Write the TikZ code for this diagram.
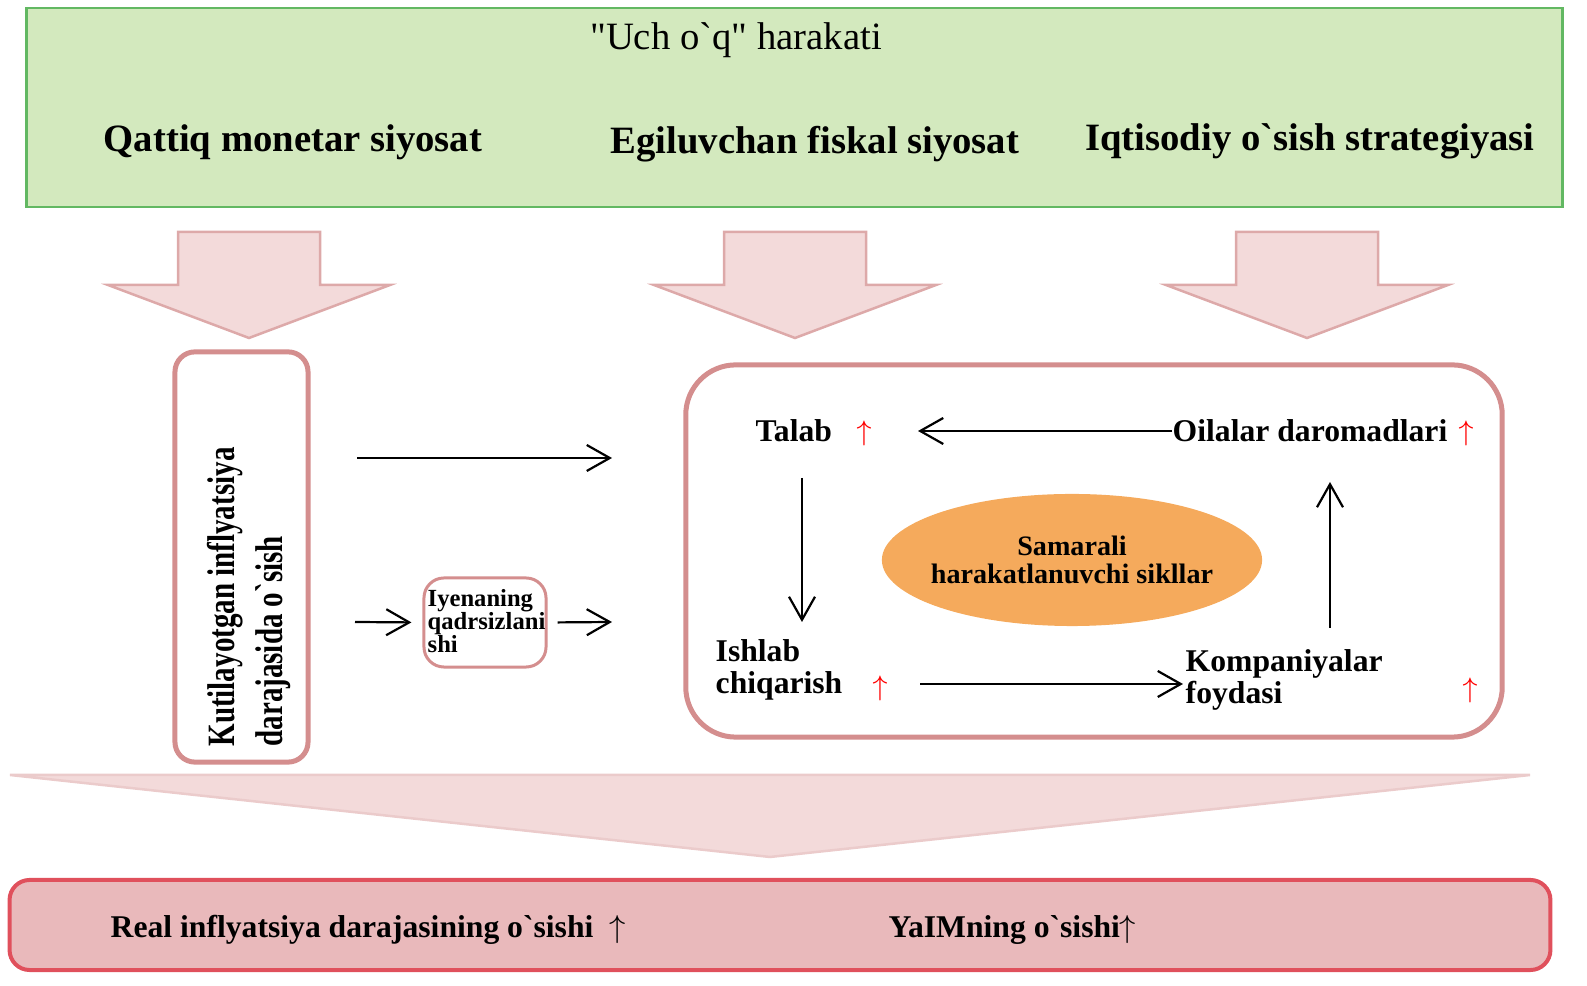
\documentclass[tikz,border=0pt]{standalone}
\usepackage{fontspec}
\setmainfont{Liberation Serif}
\usetikzlibrary{calc,arrows.meta,shapes.geometric}
\definecolor{boxgreen}{HTML}{D3E9BE}
\definecolor{linegreen}{HTML}{62B862}
\definecolor{arrowpink}{HTML}{F3DADA}
\definecolor{arrowedge}{HTML}{DDA9A9}
\definecolor{framepink}{HTML}{D48E8E}
\definecolor{cycleorange}{HTML}{F5AA5C}
\definecolor{basepink}{HTML}{E9B9BB}
\definecolor{basered}{HTML}{E0505C}
\def\fatarrow(#1){\draw[fatarr] ({#1-71},232) -- ({#1+71},232) -- ({#1+71},285) -- ({#1+141},285) -- (#1,338) -- ({#1-141},285) -- ({#1-71},285) -- cycle;}

\begin{document}
\begin{tikzpicture}[x=0.01cm, y=-0.01cm,
    fatarr/.style={fill=arrowpink, draw=arrowedge, line width=0.25mm},
    pinkframe/.style={draw=framepink, line width=0.5mm, rounded corners=2mm},
    flow/.style={-{Straight Barb[length=2.3mm,width=2.6mm]}, line width=0.22mm},
    toptxt/.style={font=\fontsize{11}{13}\selectfont\bfseries},
    lbl/.style={font=\fontsize{9}{9}\selectfont\bfseries, align=left, inner sep=0pt, anchor=west},
    redup/.style={text=red, font=\fontsize{8}{8}\selectfont, inner sep=0pt}]
    %%%%% START %%%%%
    \useasboundingbox (0,0) rectangle (1587,986);
    
    \node[fill=boxgreen, draw=linegreen, line width=0.25mm, minimum width=15.35cm, minimum height=1.99cm] (head) at (794.5,107.5) {};
    \node[font=\fontsize{11}{13}\selectfont] (title) at (736,40) {\textquotedbl Uch o\textasciigrave q\textquotedbl{} harakati};
    \node[toptxt] (monetar) at (293,142) {Qattiq monetar siyosat};
    \node[toptxt] (fiskal) at (815,144) {Egiluvchan fiskal siyosat};
    \node[toptxt] (osish) at (1310,141) {Iqtisodiy o\textasciigrave sish strategiyasi};
    
    \fatarrow(249)
    \fatarrow(795)
    \fatarrow(1307)
    
    \node[pinkframe, minimum width=1.33cm, minimum height=4.1cm] (expect) at (241.5,557) {};
    \node[rotate=90, align=left, font=\fontsize{11}{13.5}\selectfont\bfseries] (expecttxt) at (249,597)
        {\scalebox{0.75}[1]{Kutilayotgan inflyatsiya}\\\scalebox{0.75}[1]{darajasida o\textasciigrave sish}};
    
    \node[draw=framepink, line width=0.3mm, rounded corners=2mm, minimum width=1.22cm, minimum height=0.89cm] (iyen) at (485,622.5) {};
    \node[lbl, font=\fontsize{7}{6.6}\selectfont\bfseries] (iyentxt) at (427,621) {Iyenaning\\qadrsizlani\\shi};
    
    \coordinate (a1) at (357,458);
    \coordinate (a2) at (612,458);
    \coordinate (b1) at (355,622);
    \coordinate (b2) at (612,622);
    \draw[flow] (a1) -- (a2);
    \draw[flow, shorten >=1.1mm] (b1) -- (iyen.west);
    \draw[flow, shorten <=1mm] (iyen.east) -- (b2);
    
    \node[pinkframe, rounded corners=5mm, minimum width=8.16cm, minimum height=3.72cm] (cycle) at (1094,551) {};
    \node[ellipse, fill=cycleorange, inner sep=0pt, minimum width=3.8cm, minimum height=1.32cm] (samarali) at (1072,560) {};
    \node[align=center, font=\fontsize{8}{8}\selectfont\bfseries] (samaralitxt) at (samarali.center) {Samarali\\harakatlanuvchi sikllar};
    
    \node[lbl] (talab) at (755,431) {Talab};
    \node[redup] (talabup) at (864,433) {$\uparrow$};
    \node[lbl] (oila) at (1172,431) {Oilalar daromadlari};
    \node[redup] (oilaup) at (1466,433) {$\uparrow$};
    \node[lbl] (ishlab) at (715,670) {Ishlab\\chiqarish};
    \node[redup] (ishlabup) at (880,688) {$\uparrow$};
    \node[lbl] (kompan) at (1185,680) {Kompaniyalar\\foydasi};
    \node[redup] (kompanup) at (1470,690) {$\uparrow$};
    
    \coordinate (c1) at (918,431);
    \coordinate (d1) at (802,478);
    \coordinate (d2) at (802,622);
    \coordinate (e1) at (920,684);
    \coordinate (e2) at (1183,684);
    \coordinate (f1) at (1330,628);
    \coordinate (f2) at (1330,482);
    \draw[flow] (oila.west) -- (c1);
    \draw[flow] (d1) -- (d2);
    \draw[flow] (e1) -- (e2);
    \draw[flow] (f1) -- (f2);
    
    \draw[fatarr, draw=arrowedge!60] (10,775) -- (1530,775) -- (770,857) -- cycle;
    
    \node[fill=basepink, draw=basered, line width=0.4mm, rounded corners=2mm, minimum width=15.4cm, minimum height=0.9cm] (result) at (780,925) {};
    \node[lbl, font=\fontsize{9}{10}\selectfont\bfseries] (realinf) at (110,930) {Real inflyatsiya darajasining o\textasciigrave sishi \ $\uparrow$};
    \node[lbl, font=\fontsize{9}{10}\selectfont\bfseries] (yaim) at (888,930) {YaIMning o\textasciigrave sishi$\uparrow$};
    
    %%%%% END %%%%%
\end{tikzpicture}
\end{document}
